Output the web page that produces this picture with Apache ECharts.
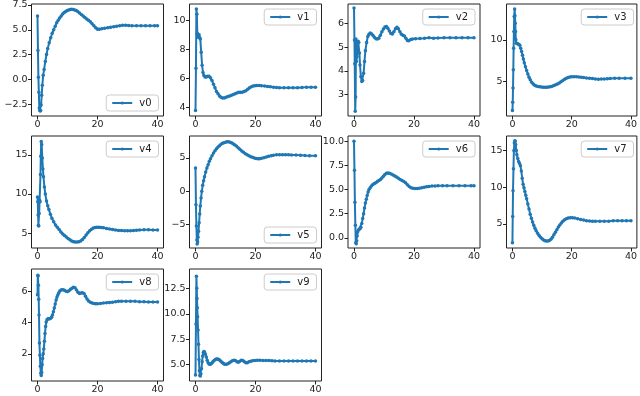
<!DOCTYPE html>
<html>
<head>
<meta charset="utf-8">
<script src="https://cdn.jsdelivr.net/npm/echarts@6/dist/echarts.min.js"></script>
<style>
  html, body { margin: 0; padding: 0; background: #fff; }
  #main { width: 640px; height: 396px; }
</style>
</head>
<body>
<div id="main"></div>
<script>
// series names
var names = ['v0', 'v1', 'v2', 'v3', 'v4', 'v5', 'v6', 'v7', 'v8', 'v9'];

// [t, value] pairs
var v0 = [[0,6.4],[0.15,2.9],[0.3,0.2],[0.45,-1.3],[0.6,-2.9],[0.75,-3.15],[0.9,-3.2],[1.05,-3.15],[1.2,-2.6],[1.4,-1.6],[1.6,-0.6],[1.9,0.4],[2.2,1.0],[2.6,1.8],[3.0,2.5],[3.4,3.1],[3.9,3.7],[4.4,4.2],[4.9,4.65],[5.4,5.0],[5.9,5.35],[6.4,5.7],[6.9,5.95],[7.4,6.2],[7.9,6.4],[8.4,6.6],[8.9,6.75],[9.4,6.85],[9.9,6.95],[10.4,7.0],[10.9,7.05],[11.4,7.07],[11.9,7.05],[12.4,7.0],[12.9,6.95],[13.4,6.85],[14,6.7],[14.6,6.55],[15.2,6.4],[15.8,6.25],[16.4,6.1],[17,5.95],[17.6,5.8],[18.2,5.6],[18.8,5.4],[19.4,5.2],[20,5.05],[20.6,5.05],[21.4,5.1],[22.4,5.15],[23.4,5.2],[24.4,5.25],[25.4,5.3],[26.4,5.35],[27.4,5.4],[28.4,5.45],[29.4,5.45],[30.4,5.42],[31.5,5.4],[33,5.4],[34.5,5.4],[36,5.4],[37.5,5.4],[39,5.4],[40,5.4]];
var v1 = [[0,3.8],[0.15,6.7],[0.3,10.75],[0.45,10.4],[0.6,9.1],[0.8,8.9],[1.0,8.8],[1.2,9.0],[1.4,8.8],[1.6,8.7],[1.9,7.8],[2.2,6.9],[2.5,6.4],[2.8,6.2],[3.2,6.1],[3.6,6.1],[4.0,6.15],[4.5,6.15],[5.0,6.05],[5.5,5.85],[6.0,5.6],[6.5,5.35],[7.0,5.1],[7.5,4.95],[8.0,4.8],[8.5,4.7],[9.0,4.65],[9.6,4.65],[10.2,4.7],[10.8,4.75],[11.4,4.8],[12,4.85],[12.6,4.9],[13.2,4.95],[13.8,5.0],[14.4,5.05],[15,5.05],[15.6,5.05],[16.2,5.1],[16.8,5.15],[17.4,5.25],[18,5.35],[18.6,5.42],[19.2,5.47],[19.8,5.5],[20.4,5.52],[21.2,5.52],[22,5.5],[23,5.48],[24,5.45],[25,5.42],[26,5.4],[27,5.37],[28,5.35],[29.5,5.35],[31,5.35],[32.5,5.35],[34,5.36],[35.5,5.38],[37,5.4],[38.5,5.4],[40,5.4]];
var v2 = [[0,6.65],[0.15,5.3],[0.25,4.3],[0.4,2.3],[0.55,2.9],[0.65,5.35],[0.8,4.4],[1.0,4.6],[1.2,4.85],[1.4,5.25],[1.6,5.2],[1.8,4.75],[2.0,4.25],[2.3,3.75],[2.6,3.55],[2.9,3.6],[3.2,3.9],[3.5,4.4],[3.8,4.85],[4.2,5.2],[4.6,5.45],[5.0,5.55],[5.4,5.6],[5.8,5.57],[6.3,5.5],[6.8,5.42],[7.3,5.36],[7.8,5.34],[8.3,5.38],[8.8,5.5],[9.3,5.65],[9.8,5.77],[10.3,5.85],[10.8,5.87],[11.3,5.8],[11.8,5.68],[12.3,5.58],[12.8,5.56],[13.3,5.65],[13.8,5.78],[14.3,5.84],[14.8,5.78],[15.3,5.65],[15.8,5.55],[16.3,5.5],[16.8,5.47],[17.3,5.38],[17.8,5.28],[18.3,5.27],[18.9,5.32],[19.5,5.35],[20.5,5.36],[22,5.37],[23.5,5.38],[25,5.4],[26.5,5.38],[28,5.39],[30,5.4],[32,5.4],[34,5.4],[36,5.4],[38,5.4],[40,5.4]];
var v3 = [[0,1.5],[0.1,2.5],[0.2,4.2],[0.3,6.4],[0.4,9.0],[0.5,11.0],[0.6,12.8],[0.75,13.7],[0.85,12.9],[0.95,12.0],[1.05,11.0],[1.15,10.0],[1.3,9.6],[1.6,9.55],[1.9,9.5],[2.2,9.45],[2.5,9.35],[2.8,9.0],[3.1,8.6],[3.4,8.15],[3.7,7.7],[4.0,7.25],[4.4,6.75],[4.8,6.3],[5.2,5.9],[5.6,5.5],[6.0,5.2],[6.5,4.9],[7.0,4.7],[7.5,4.55],[8.0,4.45],[8.6,4.38],[9.2,4.35],[9.8,4.32],[10.4,4.3],[11,4.3],[11.6,4.3],[12.2,4.32],[12.8,4.36],[13.4,4.42],[14,4.5],[14.6,4.6],[15.2,4.7],[15.8,4.8],[16.4,4.95],[17,5.1],[17.6,5.25],[18.2,5.38],[18.8,5.47],[19.4,5.52],[20,5.55],[20.8,5.56],[21.6,5.55],[22.4,5.52],[23.2,5.5],[24,5.47],[25,5.42],[26,5.38],[27,5.35],[28,5.3],[29,5.27],[30,5.28],[31,5.3],[32,5.32],[33,5.35],[34.5,5.37],[36,5.38],[38,5.38],[40,5.38]];
var v4 = [[0,9.6],[0.1,9.0],[0.2,7.3],[0.3,6.0],[0.4,5.9],[0.55,7.5],[0.7,9.2],[0.85,9.0],[1.0,12.5],[1.1,14.8],[1.25,16.7],[1.4,16.3],[1.6,14.6],[1.8,13.2],[2.0,12.2],[2.3,10.9],[2.6,10.0],[3.0,9.1],[3.4,8.5],[3.8,8.0],[4.3,7.4],[4.8,6.9],[5.4,6.45],[6.0,6.05],[6.6,5.75],[7.2,5.45],[7.8,5.15],[8.4,4.9],[9.0,4.7],[9.6,4.5],[10.2,4.3],[10.8,4.15],[11.4,4.0],[12,3.9],[12.6,3.86],[13.2,3.86],[13.8,3.9],[14.4,4.0],[15,4.2],[15.6,4.45],[16.2,4.75],[16.8,5.05],[17.4,5.3],[18,5.5],[18.6,5.65],[19.2,5.72],[19.8,5.75],[20.5,5.75],[21.2,5.72],[22,5.68],[23,5.6],[24,5.52],[25,5.45],[26,5.4],[27,5.35],[28,5.32],[29,5.3],[30,5.3],[31,5.3],[32,5.33],[33,5.38],[34,5.4],[35.5,5.42],[37,5.42],[38.5,5.4],[40,5.4]];
var v5 = [[0,3.5],[0.15,-2.0],[0.3,-5.2],[0.45,-7.3],[0.55,-7.9],[0.7,-7.6],[0.85,-6.9],[1.0,-6.0],[1.2,-4.7],[1.4,-3.4],[1.6,-2.2],[1.85,-1.0],[2.1,0.0],[2.4,0.9],[2.7,1.6],[3.0,2.2],[3.4,2.9],[3.8,3.5],[4.2,4.0],[4.6,4.5],[5.0,4.9],[5.5,5.35],[6.0,5.75],[6.5,6.1],[7.0,6.4],[7.5,6.65],[8.0,6.85],[8.5,7.05],[9.0,7.2],[9.5,7.3],[10.0,7.38],[10.5,7.42],[11.0,7.42],[11.5,7.38],[12.0,7.3],[12.5,7.15],[13.0,7.0],[13.6,6.8],[14.2,6.55],[14.8,6.3],[15.4,6.05],[16.0,5.85],[16.6,5.65],[17.2,5.5],[17.8,5.35],[18.4,5.2],[19.0,5.1],[19.6,5.0],[20.2,4.92],[20.8,4.88],[21.4,4.88],[22.0,4.95],[22.8,5.05],[23.6,5.15],[24.4,5.25],[25.2,5.35],[26,5.42],[27,5.47],[28,5.5],[29,5.5],[30,5.5],[31,5.48],[32,5.45],[33.5,5.45],[35,5.42],[36.5,5.38],[38,5.35],[40,5.35]];
var v6 = [[0,10.0],[0.15,7.0],[0.3,3.7],[0.45,1.3],[0.6,-0.5],[0.75,-0.6],[0.9,-0.3],[1.05,0.2],[1.2,0.6],[1.4,0.8],[1.7,0.9],[2.0,0.95],[2.3,1.1],[2.6,1.5],[2.9,2.0],[3.2,2.5],[3.5,3.1],[3.8,3.6],[4.1,4.0],[4.4,4.4],[4.7,4.75],[5.0,5.0],[5.4,5.2],[5.8,5.38],[6.3,5.52],[6.8,5.62],[7.3,5.72],[7.8,5.85],[8.3,5.95],[8.8,6.05],[9.3,6.2],[9.8,6.38],[10.3,6.55],[10.8,6.68],[11.3,6.72],[11.8,6.7],[12.4,6.62],[13.0,6.52],[13.6,6.42],[14.2,6.3],[14.8,6.18],[15.4,6.05],[16.0,5.95],[16.6,5.85],[17.2,5.7],[17.8,5.5],[18.4,5.32],[19.0,5.2],[19.6,5.15],[20.3,5.12],[21.0,5.12],[21.8,5.15],[22.6,5.2],[23.4,5.25],[24.2,5.3],[25,5.33],[26,5.36],[27,5.38],[28,5.4],[29.5,5.4],[31,5.4],[33,5.4],[35,5.4],[37,5.4],[39,5.4],[40,5.4]];
var v7 = [[0,2.4],[0.1,6.0],[0.2,9.5],[0.35,12.5],[0.5,15.0],[0.65,16.0],[0.8,16.3],[0.95,16.25],[1.1,15.8],[1.3,15.0],[1.5,14.4],[1.8,13.9],[2.1,13.5],[2.4,13.2],[2.7,12.9],[3.0,12.2],[3.3,11.2],[3.6,10.4],[3.9,9.9],[4.2,9.4],[4.5,8.9],[4.8,8.4],[5.2,7.7],[5.6,7.0],[6.0,6.3],[6.4,5.75],[6.8,5.25],[7.2,4.8],[7.6,4.4],[8.0,4.05],[8.5,3.7],[9.0,3.4],[9.5,3.15],[10.0,2.95],[10.5,2.8],[11.0,2.7],[11.5,2.65],[12.0,2.65],[12.5,2.72],[13.0,2.9],[13.5,3.15],[14.0,3.5],[14.5,3.85],[15.0,4.2],[15.5,4.55],[16.0,4.85],[16.5,5.1],[17.0,5.35],[17.6,5.55],[18.2,5.7],[18.8,5.78],[19.5,5.82],[20.2,5.82],[21,5.78],[22,5.7],[23,5.6],[24,5.5],[25,5.42],[26,5.37],[27,5.35],[28,5.33],[29.5,5.33],[31,5.33],[32.5,5.35],[34,5.4],[35.5,5.42],[37,5.42],[38.5,5.42],[40,5.42]];
var v8 = [[0,5.8],[0.1,7.05],[0.2,7.0],[0.3,6.4],[0.4,5.5],[0.5,4.5],[0.65,2.7],[0.8,1.9],[0.95,1.2],[1.1,0.75],[1.25,0.6],[1.4,0.8],[1.55,1.3],[1.7,1.7],[1.9,2.0],[2.1,2.3],[2.3,2.8],[2.5,3.3],[2.7,3.75],[2.9,4.05],[3.2,4.2],[3.5,4.25],[3.8,4.25],[4.1,4.25],[4.4,4.28],[4.7,4.35],[5.0,4.5],[5.3,4.7],[5.6,4.95],[5.9,5.2],[6.2,5.45],[6.5,5.65],[6.8,5.8],[7.1,5.92],[7.5,6.05],[8.0,6.12],[8.5,6.12],[9.0,6.08],[9.5,6.02],[10.0,6.0],[10.5,6.05],[11.0,6.15],[11.5,6.22],[12.0,6.28],[12.5,6.25],[13.0,6.1],[13.5,5.95],[14.0,5.88],[14.5,5.9],[15.0,5.92],[15.5,5.88],[16.0,5.7],[16.5,5.52],[17.0,5.4],[17.6,5.32],[18.2,5.27],[18.8,5.23],[19.4,5.22],[20,5.22],[21,5.24],[22,5.27],[23,5.28],[24,5.3],[25,5.32],[26,5.35],[27,5.37],[28,5.38],[29.5,5.38],[31,5.38],[32.5,5.37],[34,5.35],[35.5,5.34],[37,5.33],[38.5,5.33],[40,5.33]];
var v9 = [[0,4.0],[0.15,9.0],[0.3,13.7],[0.42,12.5],[0.5,11.5],[0.6,10.6],[0.7,9.7],[0.85,8.4],[1.0,7.0],[1.15,5.5],[1.3,4.4],[1.45,3.95],[1.6,3.9],[1.8,4.1],[2.0,4.6],[2.2,5.3],[2.4,5.85],[2.6,6.2],[2.8,6.3],[3.0,6.25],[3.3,6.05],[3.6,5.75],[3.9,5.45],[4.2,5.2],[4.6,5.05],[5.0,5.05],[5.4,5.15],[5.8,5.3],[6.2,5.42],[6.6,5.5],[7.0,5.55],[7.4,5.55],[7.8,5.5],[8.2,5.42],[8.6,5.3],[9.0,5.2],[9.4,5.1],[9.8,5.05],[10.3,5.05],[10.8,5.1],[11.3,5.2],[11.8,5.3],[12.3,5.4],[12.8,5.45],[13.3,5.42],[13.8,5.3],[14.3,5.25],[14.8,5.35],[15.3,5.45],[15.8,5.42],[16.3,5.3],[16.8,5.2],[17.3,5.2],[17.8,5.28],[18.4,5.35],[19.0,5.4],[19.8,5.42],[20.6,5.43],[21.5,5.43],[22.5,5.42],[23.5,5.42],[24.5,5.42],[25.5,5.4],[26.5,5.37],[28,5.36],[29.5,5.36],[31,5.36],[32.5,5.36],[34,5.36],[35.5,5.36],[37,5.36],[38.5,5.36],[40,5.36]];
var seriesData = [v0, v1, v2, v3, v4, v5, v6, v7, v8, v9];

// axis ranges and tick labels
var xRange = [-2, 42];
var xTicks = [0, 20, 40];
var yRanges = [[-3.7, 7.6], [3.42, 11.1], [2.1, 6.82], [0.85, 14.3], [3.1, 17.4],
               [-8.5, 8.3], [-1.05, 10.55], [1.7, 16.96], [0.25, 7.45], [3.4, 14.4]];
var yTicks = [[-2.5, 0, 2.5, 5, 7.5], [4, 6, 8, 10], [3, 4, 5, 6], [5, 10], [5, 10, 15],
              [-5, 0, 5], [0, 2.5, 5, 7.5, 10], [5, 10, 15], [2, 4, 6], [5, 7.5, 10, 12.5]];
var yDecimals = [1, 0, 0, 0, 0, 0, 1, 0, 0, 1];
var legendCorner = ['lr', 'ur', 'ur', 'ur', 'ur', 'lr', 'ur', 'ur', 'ur', 'ur'];

var colLeft = [31.5, 189.5, 348, 506.5];
var rowTop = [4, 136, 269];
var cellW = 132, cellH = 112;
var blue = '#1f77b4';
var ink = '#222';
var fontName = 'DejaVu Sans';

function tickFmt(dec) {
    return function (v) {
        return v.toFixed(dec).replace('-', '\u2212');
    };
}

var grids = [], xAxes = [], yAxes = [], lines = [], legends = [];
for (var i = 0; i < names.length; i++) {
    var gLeft = colLeft[i % 4], gTop = rowTop[Math.floor(i / 4)];
    grids.push({
        left: gLeft, top: gTop, width: cellW, height: cellH,
        show: true, borderColor: ink, borderWidth: 1, backgroundColor: 'transparent'
    });
    xAxes.push({
        type: 'value', gridIndex: i, min: xRange[0], max: xRange[1],
        position: 'bottom',
        axisLine: {show: false, onZero: false},
        axisTick: {show: true, length: 3.5, lineStyle: {color: ink}, customValues: xTicks},
        axisLabel: {color: ink, fontSize: 9.5, fontFamily: fontName, margin: 4, customValues: xTicks},
        splitLine: {show: false}
    });
    yAxes.push({
        type: 'value', gridIndex: i, min: yRanges[i][0], max: yRanges[i][1],
        position: 'left',
        axisLine: {show: false, onZero: false},
        axisTick: {show: true, length: 3.5, lineStyle: {color: ink}, customValues: yTicks[i]},
        axisLabel: {color: ink, fontSize: 9.5, fontFamily: fontName, margin: 4,
            customValues: yTicks[i], formatter: tickFmt(yDecimals[i])},
        splitLine: {show: false}
    });
    lines.push({
        name: names[i], type: 'line', xAxisIndex: i, yAxisIndex: i,
        data: seriesData[i],
        symbol: 'circle', symbolSize: 3.5, showSymbol: true,
        lineStyle: {color: blue, width: 2},
        itemStyle: {color: blue},
        animation: false
    });
    var lg = {
        data: [names[i]],
        orient: 'vertical',
        right: 640 - (gLeft + cellW) + 5,
        itemWidth: 20, itemHeight: 4, itemGap: 0,
        padding: [3, 7, 3, 5],
        borderColor: '#cccccc', borderWidth: 1, borderRadius: 3,
        backgroundColor: 'rgba(255,255,255,0.8)',
        textStyle: {color: ink, fontSize: 10, fontFamily: fontName, padding: [0, 0, 0, 2]}
    };
    if (legendCorner[i] === 'ur') {
        lg.top = gTop + 5;
    } else {
        lg.bottom = 396 - (gTop + cellH) + 5;
    }
    legends.push(lg);
}

var chart = echarts.init(document.getElementById('main'), null, {renderer: 'canvas'});
chart.setOption({
    animation: false,
    backgroundColor: '#fff',
    grid: grids,
    xAxis: xAxes,
    yAxis: yAxes,
    legend: legends,
    series: lines
});
</script>
</body>
</html>
